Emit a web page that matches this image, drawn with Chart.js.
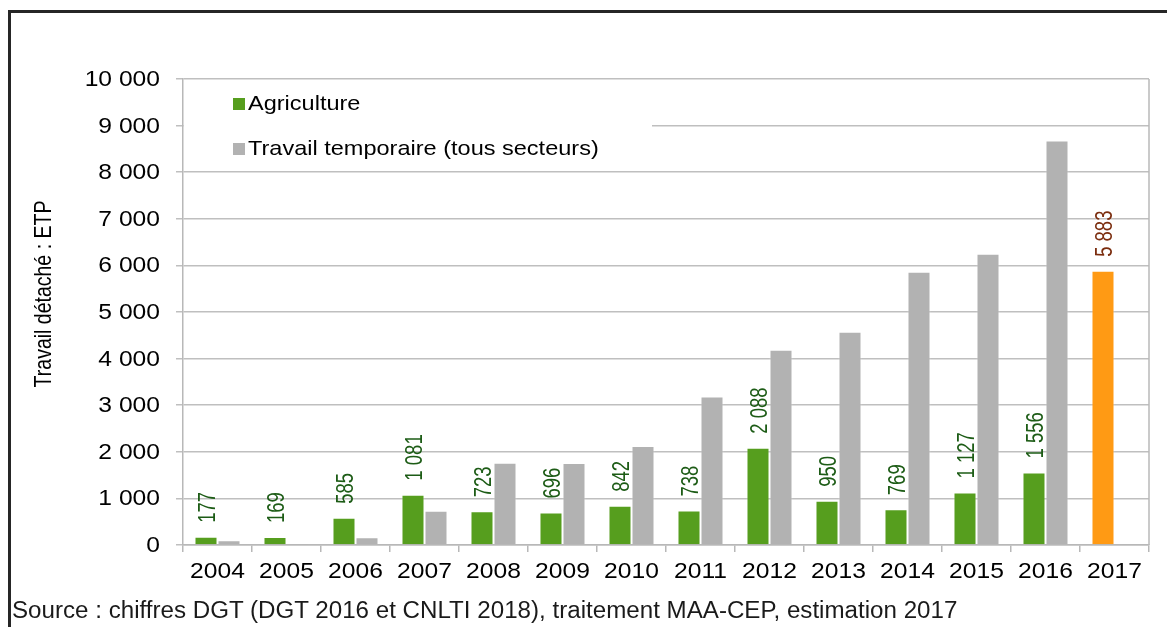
<!DOCTYPE html>
<html>
<head>
<meta charset="utf-8">
<script src="https://cdn.jsdelivr.net/npm/chart.js@4.4.0/dist/chart.umd.min.js"></script>
<style>
  html, body { margin:0; padding:0; background:#fff; overflow:hidden; }
  body { width:1167px; height:627px; position:relative; font-family:"Liberation Sans", Arial, sans-serif; }
  .frame { position:absolute; left:8px; top:10px; width:1200px; height:700px;
           border-top:3px solid #262626; border-left:3px solid #262626; }
  #myChart { position:absolute; left:0; top:0; }
  .source { position:absolute; left:12px; top:597px; font-size:23px; color:#1a1a1a; white-space:nowrap;
            transform:scaleX(1.05); transform-origin:left top; }
</style>
</head>
<body>
<div class="frame"></div>
<canvas id="myChart" width="1167" height="627"></canvas>
<div class="source">Source : chiffres DGT (DGT 2016 et CNLTI 2018), traitement MAA-CEP, estimation 2017</div>
<script>
// ---------- données ----------
const years = ['2004','2005','2006','2007','2008','2009','2010','2011','2012','2013','2014','2015','2016','2017'];
const agriculture = [177, 169, 585, 1081, 723, 696, 842, 738, 2088, 950, 769, 1127, 1556, 5883];
const travailTemporaire = [100, 30, 165, 735, 1765, 1760, 2125, 3185, 4190, 4575, 5865, 6250, 8680, null];
const yTicks = [0, 1000, 2000, 3000, 4000, 5000, 6000, 7000, 8000, 9000, 10000];

const GREEN = '#569e1e';
const GRAY = '#b2b2b2';
const ORANGE = '#ff9a14';
const FONT = '"Liberation Sans", Arial, sans-serif';
const STRETCH = 1.12; // le texte de l'original est un peu élargi

// 10000 -> "10 000"
function fr(n){ return String(n).replace(/\B(?=(\d{3})+(?!\d))/g, ' '); }

// couleur de barre : la dernière (estimation 2017) en orange
const agriColors = agriculture.map((v, i) => i == agriculture.length - 1 ? ORANGE : GREEN);
const agriLabelColors = agriculture.map((v, i) => i == agriculture.length - 1 ? '#7b2d0e' : '#1d5c16');

// étiquettes verticales au-dessus des barres vertes
const barLabels = {
  id: 'barLabels',
  afterDatasetsDraw(chart){
    const ctx = chart.ctx;
    const meta = chart.getDatasetMeta(0);
    ctx.save();
    ctx.font = '18.5px ' + FONT;
    ctx.textAlign = 'left';
    ctx.textBaseline = 'middle';
    meta.data.forEach((bar, i) => {
      ctx.save();
      ctx.translate(bar.x + 1, bar.y - 14);
      ctx.rotate(-Math.PI / 2);
      ctx.scale(1, 1.32);
      ctx.fillStyle = agriLabelColors[i];
      ctx.fillText(fr(agriculture[i]), 0, 1);
      ctx.restore();
    });
    ctx.restore();
  }
};

// libellés des axes dessinés à la main (pour pouvoir les élargir)
const axisLabels = {
  id: 'axisLabels',
  afterDraw(chart){
    const ctx = chart.ctx;
    const a = chart.chartArea;
    const sx = chart.scales.x, sy = chart.scales.y;
    ctx.save();
    ctx.fillStyle = '#000';
    ctx.font = '22px ' + FONT;
    ctx.textBaseline = 'middle';
    // axe y
    ctx.textAlign = 'right';
    yTicks.forEach(v => {
      ctx.save();
      ctx.translate(a.left - 23, sy.getPixelForValue(v) + 1);
      ctx.scale(STRETCH, 1);
      ctx.fillText(fr(v), 0, 0);
      ctx.restore();
    });
    // axe x
    ctx.textAlign = 'center';
    years.forEach((y, i) => {
      ctx.save();
      ctx.translate(sx.getPixelForValue(i), a.bottom + 27);
      ctx.scale(STRETCH, 1);
      ctx.fillText(y, 0, 0);
      ctx.restore();
    });
    // titre de l'axe y
    ctx.save();
    ctx.font = '19.5px ' + FONT;
    ctx.translate(45, (a.top + a.bottom) / 2 - 18);
    ctx.rotate(-Math.PI / 2);
    ctx.scale(1, 1.2);
    ctx.fillText('Travail détaché : ETP', 0, 0);
    ctx.restore();
    ctx.restore();
  }
};

// cadre droit de la zone de tracé + légende posée dans le graphique
const extras = {
  id: 'extras',
  afterDraw(chart){
    const ctx = chart.ctx;
    const a = chart.chartArea;
    ctx.save();
    ctx.strokeStyle = '#b8b8b8';
    ctx.lineWidth = 1.5;
    ctx.beginPath();
    ctx.moveTo(a.right, a.top);
    ctx.lineTo(a.right, a.bottom);
    ctx.stroke();

    // fond blanc de la légende (cache la grille)
    ctx.fillStyle = '#fff';
    ctx.fillRect(a.left + 1, a.top + 6, 468, 80);

    const items = [
      { text: 'Agriculture', color: GREEN, y: a.top + 25 },
      { text: 'Travail temporaire (tous secteurs)', color: GRAY, y: a.top + 70 }
    ];
    ctx.font = '21px ' + FONT;
    ctx.textBaseline = 'middle';
    items.forEach(it => {
      ctx.fillStyle = it.color;
      ctx.fillRect(a.left + 50, it.y - 6, 12, 12);
      ctx.save();
      ctx.translate(a.left + 65, it.y);
      ctx.scale(STRETCH, 1);
      ctx.fillStyle = '#000';
      ctx.fillText(it.text, 0, 0);
      ctx.restore();
    });
    ctx.restore();
  }
};

new Chart(document.getElementById('myChart'), {
  type: 'bar',
  data: {
    labels: years,
    datasets: [
      {
        label: 'Agriculture',
        data: agriculture,
        backgroundColor: agriColors,
        borderColor: 'rgba(255,255,255,0.35)',
        borderWidth: 1,
        categoryPercentage: 0.667,
        barPercentage: 1.0
      },
      {
        label: 'Travail temporaire (tous secteurs)',
        data: travailTemporaire,
        backgroundColor: GRAY,
        borderColor: 'rgba(255,255,255,0.35)',
        borderWidth: 1,
        categoryPercentage: 0.667,
        barPercentage: 1.0
      }
    ]
  },
  options: {
    responsive: false,
    animation: false,
    devicePixelRatio: 1,
    layout: { padding: { left: 34, right: 18, top: 79, bottom: 22 } },
    plugins: { legend: { display: false }, tooltip: { enabled: false } },
    scales: {
      x: {
        afterFit: (s) => { s.height = 60; },
        grid: { drawOnChartArea: false, drawTicks: true, tickLength: 7, color: '#b8b8b8', lineWidth: 1.5 },
        border: { display: true, color: '#b8b8b8', width: 1.5 },
        ticks: { display: false }
      },
      y: {
        min: 0,
        max: 10000,
        afterFit: (s) => { s.width = 149; },
        afterBuildTicks: (s) => { s.ticks = yTicks.map(v => ({ value: v })); },
        grid: { color: '#bfbfbf', lineWidth: 1.5, tickLength: 7 },
        border: { display: true, color: '#b8b8b8', width: 1.5 },
        ticks: { display: false },
        title: { display: false }
      }
    }
  },
  plugins: [barLabels, axisLabels, extras]
});
</script>
</body>
</html>
